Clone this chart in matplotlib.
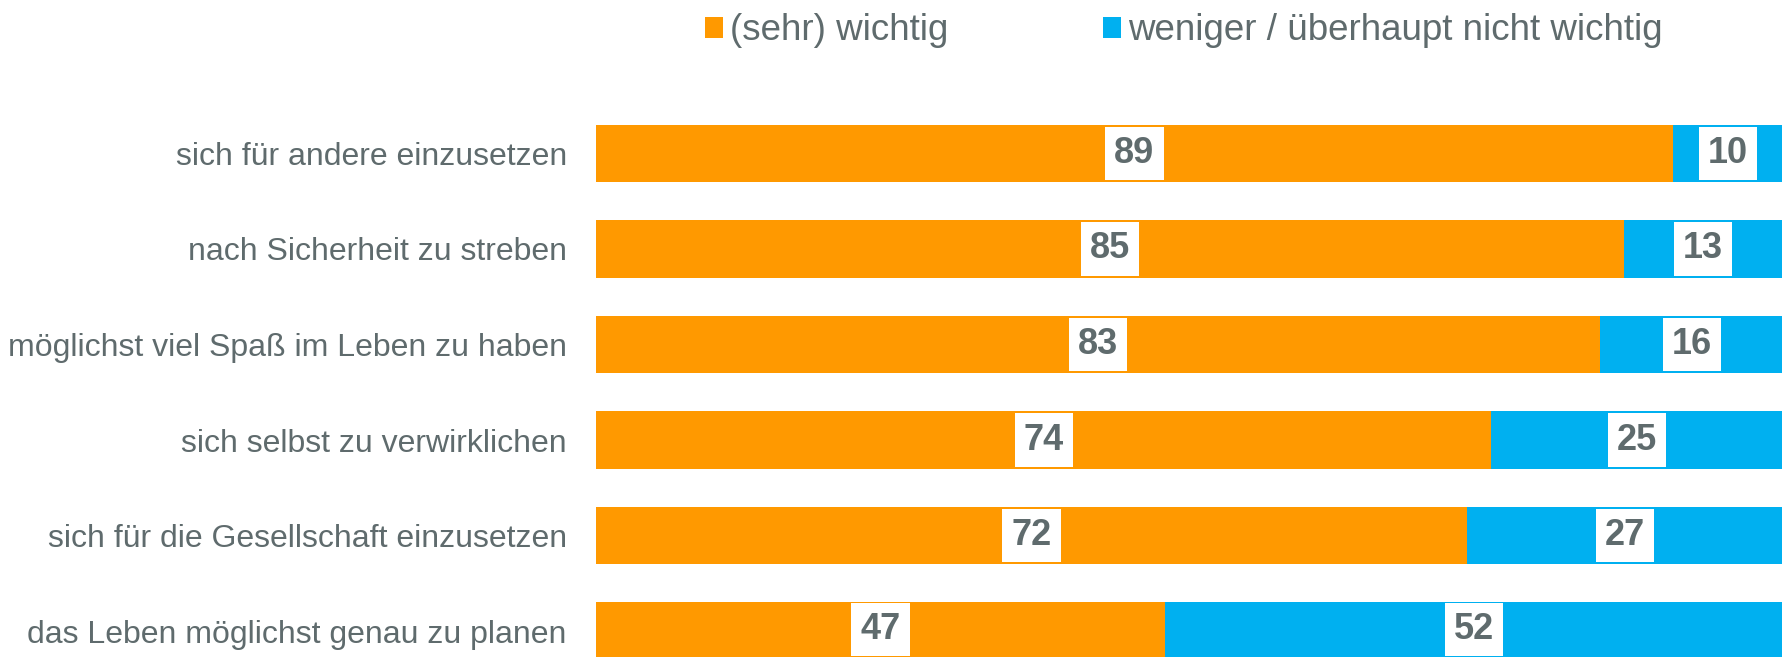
import matplotlib.pyplot as plt

plt.rcParams['font.family'] = ['Liberation Sans', 'DejaVu Sans']

categories = [
    'sich für andere einzusetzen',
    'nach Sicherheit zu streben',
    'möglichst viel Spaß im Leben zu haben',
    'sich selbst zu verwirklichen',
    'sich für die Gesellschaft einzusetzen',
    'das Leben möglichst genau zu planen',
]
wichtig = [89, 85, 83, 74, 72, 47]
nicht_wichtig = [10, 13, 16, 25, 27, 52]
series_names = ['(sehr) wichtig', 'weniger / überhaupt nicht wichtig']

orange = '#FF9900'
blue = '#00B0F0'
grey = '#5F6B6D'

W, H = 1783, 657
fig = plt.figure(figsize=(W / 100, H / 100), dpi=100)
ax = fig.add_axes([596 / W, 0, 1 - 596 / W, 1])

y = list(range(len(categories)))
b1 = ax.barh(y, wichtig, height=0.6, color=orange, label=series_names[0])
b2 = ax.barh(y, nicht_wichtig, left=wichtig, height=0.6, color=blue,
             label=series_names[1])

# value labels in white boxes, centered in each segment
for bars in (b1, b2):
    ax.bar_label(bars, labels=[str(int(v)) for v in bars.datavalues],
                 label_type='center', fontsize=26, fontweight='bold', color=grey,
                 bbox=dict(boxstyle='square,pad=0.25', fc='white', ec='none'))

ax.set_xlim(0, 98.1)
ax.set_ylim(5.272, -1.607)
ax.set_yticks(y)
ax.set_yticklabels(categories, fontsize=23, color=grey)
ax.tick_params(axis='y', length=0, pad=21)
ax.set_xticks([])
for s in ax.spines.values():
    s.set_visible(False)

leg = fig.legend(handles=[b1, b2], loc='center left',
                 bbox_to_anchor=(705 / W, 1 - 31 / H), ncol=2, frameon=False,
                 fontsize=26.5, handlelength=0.49, handleheight=0.49,
                 handletextpad=0.19, columnspacing=4.2, borderpad=0,
                 borderaxespad=0)
for t in leg.get_texts():
    t.set_color(grey)

fig.savefig('out.png', dpi=100)
